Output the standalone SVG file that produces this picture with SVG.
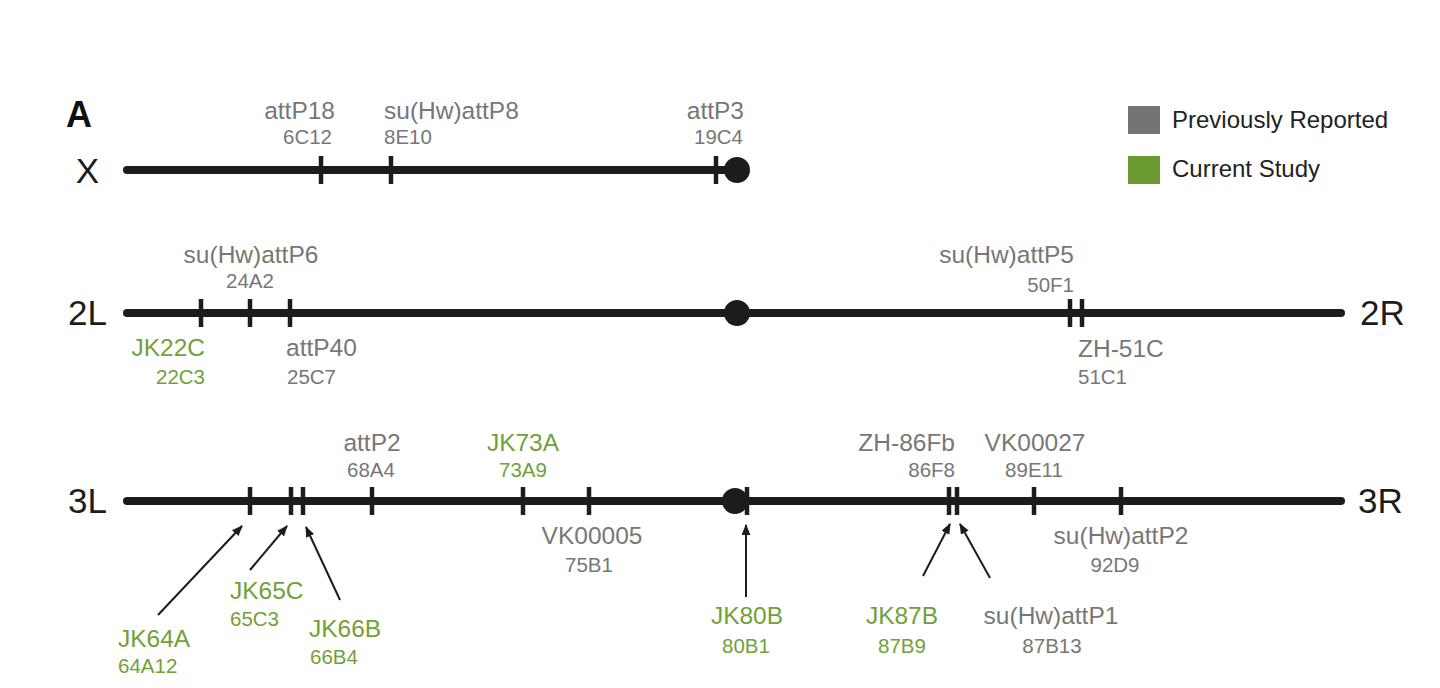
<svg xmlns="http://www.w3.org/2000/svg" width="1440" height="688" viewBox="0 0 1440 688">
<defs>
<style>
text{font-family:"Liberation Sans",Arial,sans-serif}
.chr{stroke:#1c1c1c;stroke-width:8;stroke-linecap:round;fill:none}
.tick{stroke:#1c1c1c;stroke-width:4.5}
.cen{fill:#1c1c1c}
.lab{font-size:35px;fill:#1c1c1c}
.g1{font-size:24.5px;fill:#777777}
.g2{font-size:20.5px;fill:#777777}
.n1{font-size:24.5px;fill:#72a03a}
.n2{font-size:20.5px;fill:#72a03a}
.leg{font-size:24px;fill:#222222}
.arr{stroke:#1c1c1c;stroke-width:2;fill:none;marker-end:url(#ah)}
.m{text-anchor:middle}.e{text-anchor:end}
</style>
<marker id="ah" viewBox="0 0 10 8" refX="9" refY="4" markerWidth="5.5" markerHeight="4.5" markerUnits="strokeWidth" orient="auto">
<path d="M0,0 L10,4 L0,8 z" fill="#1c1c1c"/>
</marker>
</defs>
<rect width="1440" height="688" fill="#ffffff"/>
<text x="66" y="127" style="font-size:36px;font-weight:bold;fill:#111">A</text>

<g id="legend">
<rect x="1128" y="106" width="32" height="28" fill="#747474"/>
<rect x="1128" y="156" width="32" height="28" fill="#6b9a33"/>
<text class="leg" x="1172" y="128">Previously Reported</text>
<text class="leg" x="1172" y="177">Current Study</text>
</g>

<g id="chrX">
<line class="chr" x1="127" y1="170" x2="730" y2="170"/>
<circle class="cen" cx="737" cy="170" r="13"/>
<line class="tick" x1="321" y1="156" x2="321" y2="184"/>
<line class="tick" x1="391" y1="156" x2="391" y2="184"/>
<line class="tick" x1="716" y1="156" x2="716" y2="184"/>
<text class="lab e" x="99" y="183">X</text>
</g>
<g id="attP18"><text class="g1 e" x="335" y="119">attP18</text><text class="g2 e" x="332" y="144">6C12</text></g>
<g id="suHwattP8"><text class="g1" x="384" y="119">su(Hw)attP8</text><text class="g2" x="384" y="144">8E10</text></g>
<g id="attP3"><text class="g1 e" x="744" y="119">attP3</text><text class="g2 e" x="743" y="144">19C4</text></g>

<g id="chr2">
<line class="chr" x1="127" y1="313" x2="1341" y2="313"/>
<circle class="cen" cx="737" cy="313" r="13"/>
<line class="tick" x1="201" y1="299" x2="201" y2="327"/>
<line class="tick" x1="250" y1="299" x2="250" y2="327"/>
<line class="tick" x1="290" y1="299" x2="290" y2="327"/>
<line class="tick" x1="1070" y1="299" x2="1070" y2="327"/>
<line class="tick" x1="1082" y1="299" x2="1082" y2="327"/>
<text class="lab e" x="107" y="325">2L</text>
<text class="lab" x="1360" y="325">2R</text>
</g>
<g id="suHwattP6"><text class="g1 m" x="251" y="263">su(Hw)attP6</text><text class="g2 m" x="250" y="288">24A2</text></g>
<g id="JK22C"><text class="n1 e" x="205" y="356">JK22C</text><text class="n2 e" x="205" y="384">22C3</text></g>
<g id="attP40"><text class="g1" x="286" y="356">attP40</text><text class="g2" x="287" y="384">25C7</text></g>
<g id="suHwattP5"><text class="g1 e" x="1074" y="263">su(Hw)attP5</text><text class="g2 e" x="1074" y="292">50F1</text></g>
<g id="ZH-51C"><text class="g1" x="1078" y="357">ZH-51C</text><text class="g2" x="1078" y="384">51C1</text></g>

<g id="chr3">
<line class="chr" x1="127" y1="501" x2="1341" y2="501"/>
<circle class="cen" cx="735" cy="501" r="13"/>
<line class="tick" x1="250" y1="487" x2="250" y2="515"/>
<line class="tick" x1="291" y1="487" x2="291" y2="515"/>
<line class="tick" x1="303" y1="487" x2="303" y2="515"/>
<line class="tick" x1="372" y1="487" x2="372" y2="515"/>
<line class="tick" x1="523" y1="487" x2="523" y2="515"/>
<line class="tick" x1="589" y1="487" x2="589" y2="515"/>
<line class="tick" x1="747" y1="487" x2="747" y2="515"/>
<line class="tick" x1="949" y1="487" x2="949" y2="515"/>
<line class="tick" x1="957" y1="487" x2="957" y2="515"/>
<line class="tick" x1="1034" y1="487" x2="1034" y2="515"/>
<line class="tick" x1="1121" y1="487" x2="1121" y2="515"/>
<text class="lab e" x="107" y="513">3L</text>
<text class="lab" x="1358" y="513">3R</text>
</g>
<g id="attP2"><text class="g1 m" x="372" y="451">attP2</text><text class="g2 m" x="371" y="477">68A4</text></g>
<g id="JK73A"><text class="n1 m" x="523" y="451">JK73A</text><text class="n2 m" x="523" y="477">73A9</text></g>
<g id="VK00005"><text class="g1 m" x="592" y="544">VK00005</text><text class="g2 m" x="589" y="572">75B1</text></g>
<g id="ZH-86Fb"><text class="g1 e" x="955" y="451">ZH-86Fb</text><text class="g2 e" x="955" y="477">86F8</text></g>
<g id="VK00027"><text class="g1 m" x="1035" y="451">VK00027</text><text class="g2 m" x="1034" y="477">89E11</text></g>
<g id="suHwattP2"><text class="g1 m" x="1121" y="544">su(Hw)attP2</text><text class="g2 m" x="1115" y="572">92D9</text></g>
<g id="JK64A"><text class="n1" x="118" y="647">JK64A</text><text class="n2" x="118" y="673">64A12</text></g>
<g id="JK65C"><text class="n1" x="230" y="599">JK65C</text><text class="n2" x="230" y="626">65C3</text></g>
<g id="JK66B"><text class="n1" x="309" y="637">JK66B</text><text class="n2" x="310" y="664">66B4</text></g>
<g id="JK80B"><text class="n1 m" x="747" y="624">JK80B</text><text class="n2 m" x="746" y="653">80B1</text></g>
<g id="JK87B"><text class="n1 m" x="902" y="624">JK87B</text><text class="n2 m" x="902" y="653">87B9</text></g>
<g id="suHwattP1"><text class="g1 m" x="1051" y="624">su(Hw)attP1</text><text class="g2 m" x="1052" y="653">87B13</text></g>

<g id="connectors">
<line class="arr" x1="158" y1="615" x2="242" y2="526"/>
<line class="arr" x1="250" y1="570" x2="287" y2="526"/>
<line class="arr" x1="340" y1="600" x2="306" y2="527"/>
<line class="arr" x1="746" y1="597" x2="746" y2="525"/>
<line class="arr" x1="923" y1="576" x2="950" y2="524"/>
<line class="arr" x1="990" y1="578" x2="960" y2="524"/>
</g>
</svg>
